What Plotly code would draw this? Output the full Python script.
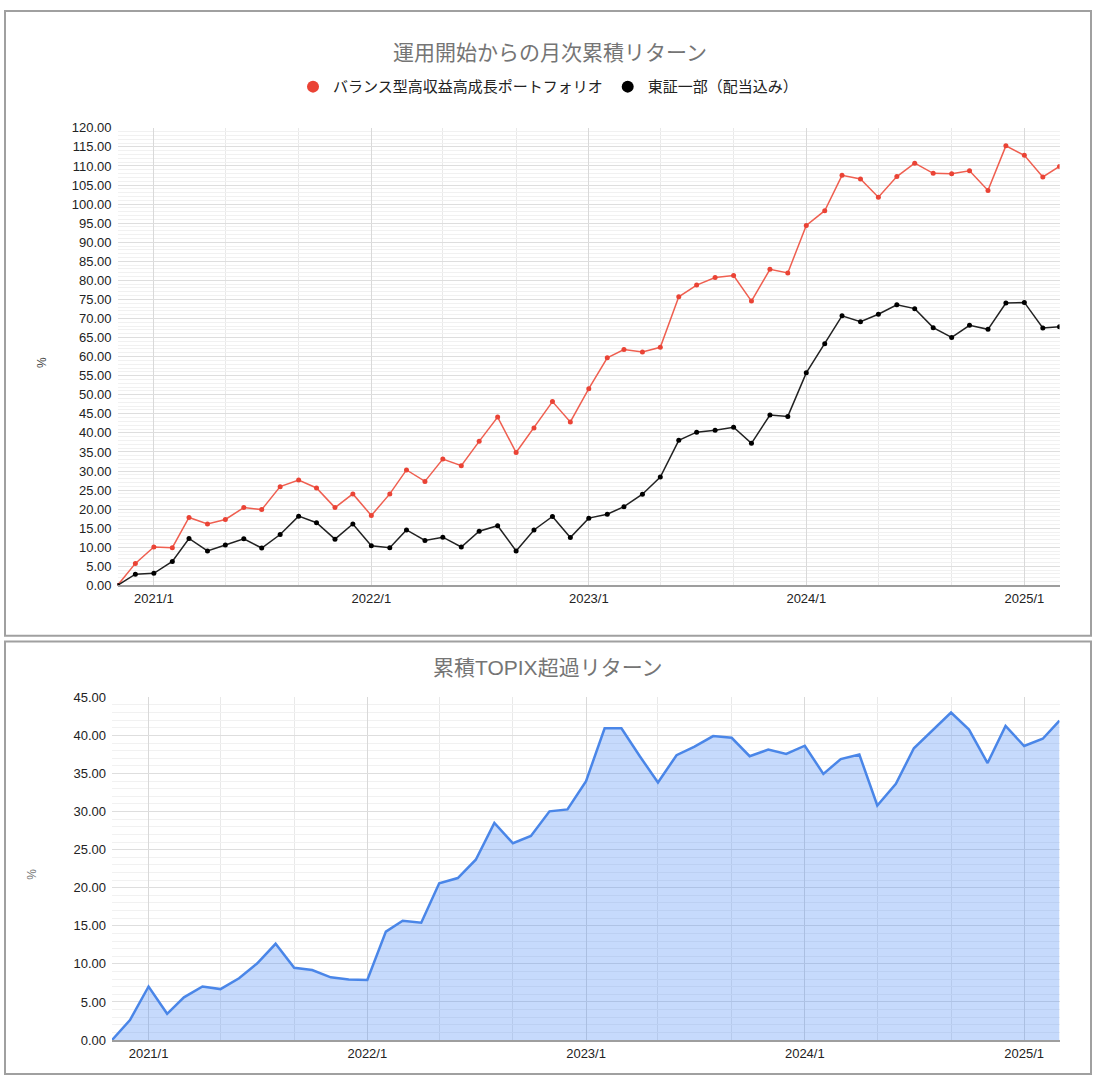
import plotly.graph_objects as go

# -----------------------------
# DATA
# -----------------------------
months = [
    "2020-11", "2020-12",
    "2021-01", "2021-02", "2021-03", "2021-04", "2021-05", "2021-06",
    "2021-07", "2021-08", "2021-09", "2021-10", "2021-11", "2021-12",
    "2022-01", "2022-02", "2022-03", "2022-04", "2022-05", "2022-06",
    "2022-07", "2022-08", "2022-09", "2022-10", "2022-11", "2022-12",
    "2023-01", "2023-02", "2023-03", "2023-04", "2023-05", "2023-06",
    "2023-07", "2023-08", "2023-09", "2023-10", "2023-11", "2023-12",
    "2024-01", "2024-02", "2024-03", "2024-04", "2024-05", "2024-06",
    "2024-07", "2024-08", "2024-09", "2024-10", "2024-11", "2024-12",
    "2025-01", "2025-02", "2025-03",
]

# バランス型高収益高成長ポートフォリオ (%)
portfolio = [
    0.00, 5.77,
    10.07, 9.90, 17.81, 16.09, 17.30, 20.40, 19.88, 25.90, 27.62, 25.56, 20.40, 24.00,
    18.33, 24.00, 30.29, 27.28, 33.13, 31.41, 37.78, 44.15, 34.85, 41.31, 48.20, 42.86,
    51.60, 59.69, 61.84, 61.24, 62.44, 75.67, 78.76, 80.74, 81.25, 74.55, 82.89, 81.94,
    94.40, 98.26, 107.54, 106.60, 101.79, 107.20, 110.72, 108.06, 107.97, 108.75, 103.59, 115.27,
    112.78, 107.11, 109.86,
]

# 東証一部（配当込み） (%)
topix = [
    0.00, 2.93,
    3.18, 6.28, 12.31, 9.04, 10.59, 12.22, 9.81, 13.34, 18.16, 16.44, 12.13, 16.09,
    10.41, 9.90, 14.54, 11.79, 12.65, 10.07, 14.20, 15.66, 9.04, 14.54, 18.07, 12.56,
    17.64, 18.67, 20.65, 23.92, 28.40, 38.04, 40.19, 40.70, 41.48, 37.26, 44.66, 44.32,
    55.74, 63.38, 70.69, 69.14, 71.12, 73.61, 72.58, 67.60, 65.02, 68.20, 67.16, 74.04,
    74.21, 67.51, 67.85,
]

# 累積TOPIX超過リターン (%)
excess = [
    0.00, 2.63,
    7.03, 3.45, 5.61, 7.03, 6.69, 8.11, 10.05, 12.64, 9.49, 9.19, 8.24, 7.94,
    7.90, 14.24, 15.66, 15.40, 20.58, 21.27, 23.68, 28.52, 25.84, 26.79, 30.03, 30.28,
    34.00, 40.94, 40.94, 37.23, 33.82, 37.40, 38.52, 39.91, 39.69, 37.27, 38.14, 37.58,
    38.65, 34.94, 36.89, 37.49, 30.80, 33.65, 38.31, 40.68, 43.01, 40.77, 36.37, 41.24,
    38.61, 39.56, 41.93,
]

year_ticks = ["2021-01-01", "2022-01-01", "2023-01-01", "2024-01-01", "2025-01-01"]
year_labels = ["2021/1", "2022/1", "2023/1", "2024/1", "2025/1"]

RED = "#ea4335"
RED_LINE = "#ef5f50"
BLACK = "#000000"
BLACK_LINE = "#222222"
BLUE = "#4a86e8"
W, H = 1094, 1087
FONT = "Liberation Sans, Arial, Noto Sans CJK JP, sans-serif"

fig = go.Figure()

# -----------------------------
# TOP: cumulative monthly return
# -----------------------------
fig.add_trace(go.Scatter(
    x=months, y=portfolio, mode="lines+markers", showlegend=False,
    line=dict(color=RED_LINE, width=1.5), marker=dict(color=RED, size=5),
    xaxis="x", yaxis="y",
))
fig.add_trace(go.Scatter(
    x=months, y=topix, mode="lines+markers", showlegend=False,
    line=dict(color=BLACK_LINE, width=1.5), marker=dict(color=BLACK, size=5),
    xaxis="x", yaxis="y",
))
# legend entries (circle only, like the original)
fig.add_trace(go.Scatter(
    x=[None], y=[None], mode="markers", name="バランス型高収益高成長ポートフォリオ",
    marker=dict(color=RED, size=12), xaxis="x", yaxis="y",
))
fig.add_trace(go.Scatter(
    x=[None], y=[None], mode="markers", name="東証一部（配当込み）",
    marker=dict(color=BLACK, size=12), xaxis="x", yaxis="y",
))

# -----------------------------
# BOTTOM: excess return vs TOPIX
# -----------------------------
fig.add_trace(go.Scatter(
    x=months, y=excess, mode="lines", fill="tozeroy", showlegend=False,
    line=dict(color=BLUE, width=2.5), fillcolor="rgba(66,133,244,0.30)",
    xaxis="x2", yaxis="y2",
))

xaxis_common = dict(
    type="date",
    range=[months[0], months[-1]],
    tickmode="array", tickvals=year_ticks, ticktext=year_labels,
    ticks="", showgrid=True, gridcolor="#d9d9d9", gridwidth=1,
    minor=dict(tickmode="linear", tick0="2021-01-01", dtick="M4",
               showgrid=True, gridcolor="#e9e9e9", gridwidth=1),
    showline=True, linecolor="#9e9e9e", linewidth=2,
    zeroline=False, fixedrange=True,
    tickfont=dict(size=13, color="#222222"),
)
yaxis_common = dict(
    tickformat=".2f", dtick=5, tick0=0, ticks="",
    ticklabelstandoff=5,
    showgrid=True, gridcolor="#dedede", gridwidth=1,
    minor=dict(dtick=1, showgrid=True, gridcolor="#f1f1f1", gridwidth=1),
    zeroline=False, showline=False, fixedrange=True,
    tickfont=dict(size=13, color="#222222"),
)

fig.update_layout(
    width=W, height=H, autosize=False,
    margin=dict(l=0, r=0, t=0, b=0),
    paper_bgcolor="white", plot_bgcolor="white",
    font=dict(family=FONT, size=13, color="#222222"),
    xaxis=dict(xaxis_common, domain=[117.5 / W, 1059.5 / W], anchor="y"),
    yaxis=dict(yaxis_common, domain=[1 - 586.5 / H, 1 - 122.5 / H],
               range=[0, 120], anchor="x"),
    xaxis2=dict(xaxis_common, domain=[112 / W, 1059.5 / W], anchor="y2"),
    yaxis2=dict(yaxis_common, domain=[1 - 1047.5 / H, 1 - 700 / H],
                range=[0, 45], anchor="x2"),
    legend=dict(orientation="h", x=548 / W, y=1 - 81 / H,
                xanchor="center", yanchor="middle",
                font=dict(size=15, color="#222222"), itemwidth=30),
    showlegend=True,
)

# titles and axis titles
annots = [
    dict(text="運用開始からの月次累積リターン", x=550 / W, y=1 - 46 / H,
         font=dict(size=21, color="#757575")),
    dict(text="累積TOPIX超過リターン", x=548 / W, y=1 - 670 / H,
         font=dict(size=21, color="#757575")),
    dict(text="%", x=42 / W, y=1 - 361 / H, textangle=-90,
         font=dict(size=12, color="#444444")),
    dict(text="%", x=32 / W, y=1 - 880 / H, textangle=-90,
         font=dict(size=12, color="#777777")),
]
for a in annots:
    fig.add_annotation(xref="paper", yref="paper", showarrow=False,
                       xanchor="center", yanchor="middle", **a)

# panel frames
for y0, y1 in [(4, 637.5), (643.5, 1082)]:
    fig.add_shape(type="rect", xref="paper", yref="paper",
                  x0=5 / W, x1=1091 / W, y0=1 - y1 / H, y1=1 - y0 / H,
                  line=dict(color="#a0a0a0", width=2), layer="below")

# page body has a default 8px margin; drop it so the figure sits at 0,0
fig.write_html("out.html", config={"displayModeBar": False},
               post_script="document.body.style.margin='0';")
